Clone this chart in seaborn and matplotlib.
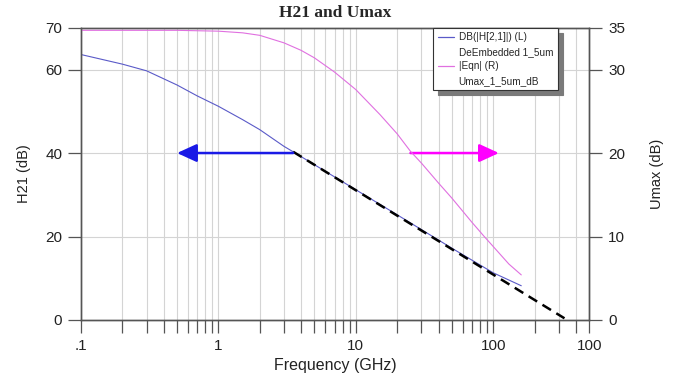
import numpy as np
import pandas as pd
import matplotlib
matplotlib.use("Agg")
import matplotlib.pyplot as plt
from matplotlib.lines import Line2D
import seaborn as sns

# données
freq_h21 = [0.1, 0.2, 0.3, 0.5, 0.7, 1, 1.5, 2, 3, 3.5, 5, 10, 20, 50, 100, 160]
h21_db = [63.6, 61.3, 59.7, 56.3, 53.7, 51.2, 48.0, 45.6, 41.6, 40.3, 37.2, 31.2, 25.2, 17.2, 11.3, 8.2]

freq_umax = [0.1, 0.3, 0.5, 1, 1.5, 2, 3, 4, 5, 7, 10, 15, 20, 25, 30, 40, 50, 70, 86, 100, 130, 160]
umax_db = [34.7, 34.7, 34.7, 34.6, 34.4, 34.1, 33.2, 32.3, 31.4, 29.7, 27.6, 24.6, 22.3, 20.2, 18.8,
           16.4, 14.6, 11.7, 10.0, 8.8, 6.7, 5.4]

# asymptote -20 dB/décade
freq_asym = [3.5, 330]
asym_db = [40.3, 0.4]

x_major = [0.1, 1, 10, 100, 500]
x_major_labels = [".1", "1", "10", "100", "100"]
x_minor = [0.2, 0.3, 0.4, 0.5, 0.6, 0.7, 0.8, 0.9, 2, 3, 4, 5, 6, 7, 8, 9,
           20, 30, 40, 50, 60, 70, 80, 90, 200, 300, 400]
left_ticks = [0, 20, 40, 60, 70]
right_ticks = [0, 10, 20, 30, 35]

legend_labels = ["DB(|H[2,1]|) (L)", "DeEmbedded 1_5um", "|Eqn| (R)", "Umax_1_5um_dB"]

df_h21 = pd.DataFrame({"f": freq_h21, "v": h21_db})
df_umax = pd.DataFrame({"f": freq_umax, "v": umax_db})
df_asym = pd.DataFrame({"f": freq_asym, "v": asym_db})

sns.set_style("white")
plt.rcParams["font.family"] = ["Liberation Sans", "DejaVu Sans"]

fig = plt.figure(figsize=(6.75, 3.76), dpi=100)
ax = fig.add_axes([0.12, 0.149, 0.753, 0.777])
ax2 = ax.twinx()

axis_col = "#555555"
grid_col = "#d4d4d4"
blue_line = "#5a5ac8"
mag_line = "#e070e0"

# grille
for xv in x_minor + [1, 10, 100]:
    ax.axvline(xv, color=grid_col, lw=0.8, zorder=0)
for yv in [20, 40, 60]:
    ax.axhline(yv, color=grid_col, lw=0.8, zorder=0)

sns.lineplot(data=df_h21, x="f", y="v", ax=ax, color=blue_line, lw=0.8, legend=False)
sns.lineplot(data=df_umax, x="f", y="v", ax=ax2, color=mag_line, lw=0.8, legend=False)
sns.lineplot(data=df_asym, x="f", y="v", ax=ax, color="black", lw=1.8,
             linestyle=(0, (4, 2.5)), legend=False, zorder=4)

ax.set_xscale("log")
ax.set_xlim(0.1, 500)
ax.set_ylim(0, 70)
ax2.set_ylim(0, 35)

ax.set_xticks(x_major)
ax.set_xticklabels(x_major_labels)
ax.set_xticks(x_minor, minor=True)
ax.set_yticks(left_ticks)
ax2.set_yticks(right_ticks)

for a in (ax, ax2):
    for s in a.spines.values():
        s.set_color(axis_col)
        s.set_linewidth(1.0)
    a.tick_params(which="both", direction="out", length=9.5, width=0.9,
                  color=axis_col, labelsize=11, labelcolor="#222222", pad=4)
ax.tick_params(axis="x", which="both", bottom=True, pad=4)
ax.tick_params(axis="y", left=True)
ax2.tick_params(axis="y", right=True)

# flèches
ax.annotate("", xy=(0.5, 40), xytext=(3.5, 40),
            arrowprops=dict(arrowstyle="-|>,head_length=1.2,head_width=0.55",
                            color="#1a1ae6", lw=1.8, shrinkA=0, shrinkB=0), zorder=5)
ax.annotate("", xy=(110, 40), xytext=(25, 40),
            arrowprops=dict(arrowstyle="-|>,head_length=1.2,head_width=0.55",
                            color="#ff00ff", lw=1.8, shrinkA=0, shrinkB=0), zorder=5)

ax.set_xlabel("Frequency (GHz)", fontsize=11.5, color="#222222", labelpad=4)
ax.set_ylabel("H21 (dB)", fontsize=10.5, color="#222222", labelpad=10)
ax2.set_ylabel("Umax (dB)", fontsize=10.5, color="#222222", labelpad=18)
fig.text(0.497, 0.966, "H21 and Umax", ha="center", va="center",
         fontsize=12.5, fontweight="bold", family=["Liberation Serif", "DejaVu Serif"])

# légende
handles = [Line2D([], [], color=blue_line, lw=0.9), Line2D([], [], color="none"),
           Line2D([], [], color=mag_line, lw=0.9), Line2D([], [], color="none")]
leg = ax2.legend(handles, legend_labels, loc="upper left",
                 bbox_to_anchor=(0.693, 0.0, 0.246, 1.0), mode="expand",
                 borderaxespad=0, fontsize=7.2, frameon=True, fancybox=False,
                 borderpad=0.45, handlelength=1.6, handletextpad=0.5, labelspacing=0.45,
                 shadow={"ox": 3.5, "oy": -3.5, "color": "#7a7a7a", "alpha": 1})
leg.get_frame().set_edgecolor("#333333")
leg.get_frame().set_linewidth(0.8)

fig.savefig("out.png", dpi=100)
